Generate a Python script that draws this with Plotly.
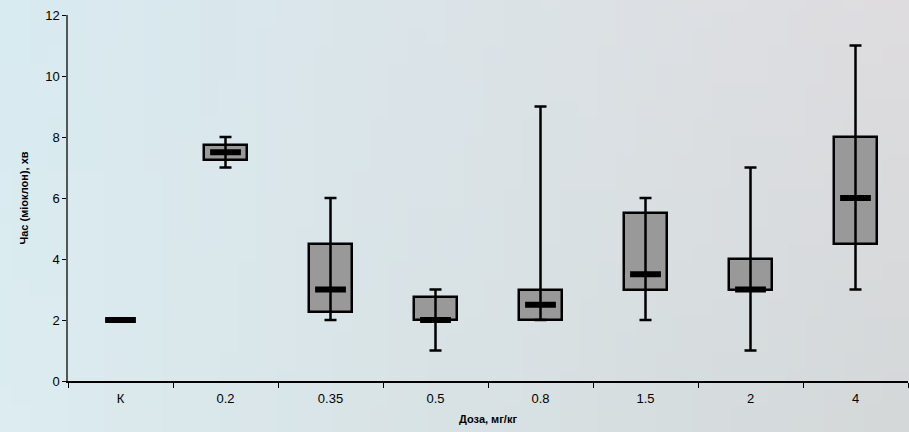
import base64
import struct
import zlib

import plotly.graph_objects as go

# Dose groups and the five-number summary of myoclonus onset time (min)
doses = ["К", "0.2", "0.35", "0.5", "0.8", "1.5", "2", "4"]
t_min = [2, 7, 2, 1, 2, 2, 1, 3]
t_q1 = [2, 7.25, 2.25, 2, 2, 3, 3, 4.5]
t_median = [2, 7.5, 3, 2, 2.5, 3.5, 3, 6]
t_q3 = [2, 7.75, 4.5, 2.75, 3, 5.5, 4, 8]
t_max = [2, 8, 6, 3, 9, 6, 7, 11]

y_ticks = [0, 2, 4, 6, 8, 10, 12]


def gradient_png(w, h, corners):
    """Small PNG with a bilinear blend between four corner colours."""
    tl, tr, bl, br = corners
    rows = b""
    for j in range(h):
        v = j / (h - 1)
        rows += b"\x00"
        for i in range(w):
            u = i / (w - 1)
            px = []
            for c in range(3):
                top = tl[c] * (1 - u) + tr[c] * u
                bot = bl[c] * (1 - u) + br[c] * u
                px.append(int(round(top * (1 - v) + bot * v)))
            rows += bytes(px)

    def chunk(tag, data):
        body = tag + data
        return struct.pack(">I", len(data)) + body + struct.pack(">I", zlib.crc32(body) & 0xFFFFFFFF)

    png = b"\x89PNG\r\n\x1a\n"
    png += chunk(b"IHDR", struct.pack(">IIBBBBB", w, h, 8, 2, 0, 0, 0))
    png += chunk(b"IDAT", zlib.compress(rows, 9))
    png += chunk(b"IEND", b"")
    return "data:image/png;base64," + base64.b64encode(png).decode()


backdrop = gradient_png(
    48, 24,
    [(216, 235, 241), (222, 220, 223), (220, 236, 240), (212, 216, 217)],
)

box_base = [q1 for q1 in t_q1]
box_height = [(q3 - q1) if q3 > q1 else None for q1, q3 in zip(t_q1, t_q3)]
err_up = [hi - m for hi, m in zip(t_max, t_median)]
err_down = [m - lo for lo, m in zip(t_min, t_median)]

fig = go.Figure()

# interquartile boxes
fig.add_trace(go.Bar(
    x=doses, y=box_height, base=box_base, width=0.41,
    marker=dict(color="#999999", line=dict(color="black", width=2.5)),
    hoverinfo="skip", showlegend=False,
))

# min–max whiskers
fig.add_trace(go.Scatter(
    x=doses, y=t_median, mode="markers",
    marker=dict(size=1, color="rgba(0,0,0,0)"),
    error_y=dict(type="data", symmetric=False, array=err_up, arrayminus=err_down,
                 color="black", thickness=2.5, width=6),
    showlegend=False,
))

# medians
fig.add_trace(go.Scatter(
    x=doses, y=t_median, mode="markers",
    marker=dict(symbol="line-ew", size=22, line=dict(color="black", width=6)),
    showlegend=False,
))

# soft backdrop stretched over the whole page
fig.add_layout_image(dict(
    source=backdrop, xref="x domain", yref="y domain",
    x=-68 / 840, y=1 + 15 / 366, sizex=909 / 840, sizey=432 / 366,
    sizing="stretch", layer="below", xanchor="left", yanchor="top",
))

font_family = "Liberation Sans, Arial, sans-serif"
fig.update_layout(
    width=909, height=432,
    margin=dict(l=68, r=1, t=15, b=51),
    paper_bgcolor="#dde5e8", plot_bgcolor="rgba(0,0,0,0)",
    font=dict(family=font_family, size=12, color="black"),
    bargap=0,
    xaxis=dict(
        type="category", categoryorder="array", categoryarray=doses,
        range=[-0.5, 7.5], tickson="boundaries",
        ticks="outside", ticklen=5, tickcolor="black", tickwidth=1,
        showline=True, linecolor="black", linewidth=1.5,
        showgrid=False, zeroline=False,
        tickfont=dict(size=13), ticklabelstandoff=5,
        title=dict(text="<b>Доза, мг/кг</b>", font=dict(size=11), standoff=10),
    ),
    yaxis=dict(
        range=[0, 12], tickvals=y_ticks,
        ticks="outside", ticklen=4, tickcolor="black", tickwidth=1,
        showline=True, linecolor="#555555", linewidth=1.5,
        showgrid=False, zeroline=False,
        tickfont=dict(size=13),
        title=dict(text="<b>Час (міоклон), хв</b>", font=dict(size=11), standoff=14),
    ),
)

fig.write_html("out.html")
